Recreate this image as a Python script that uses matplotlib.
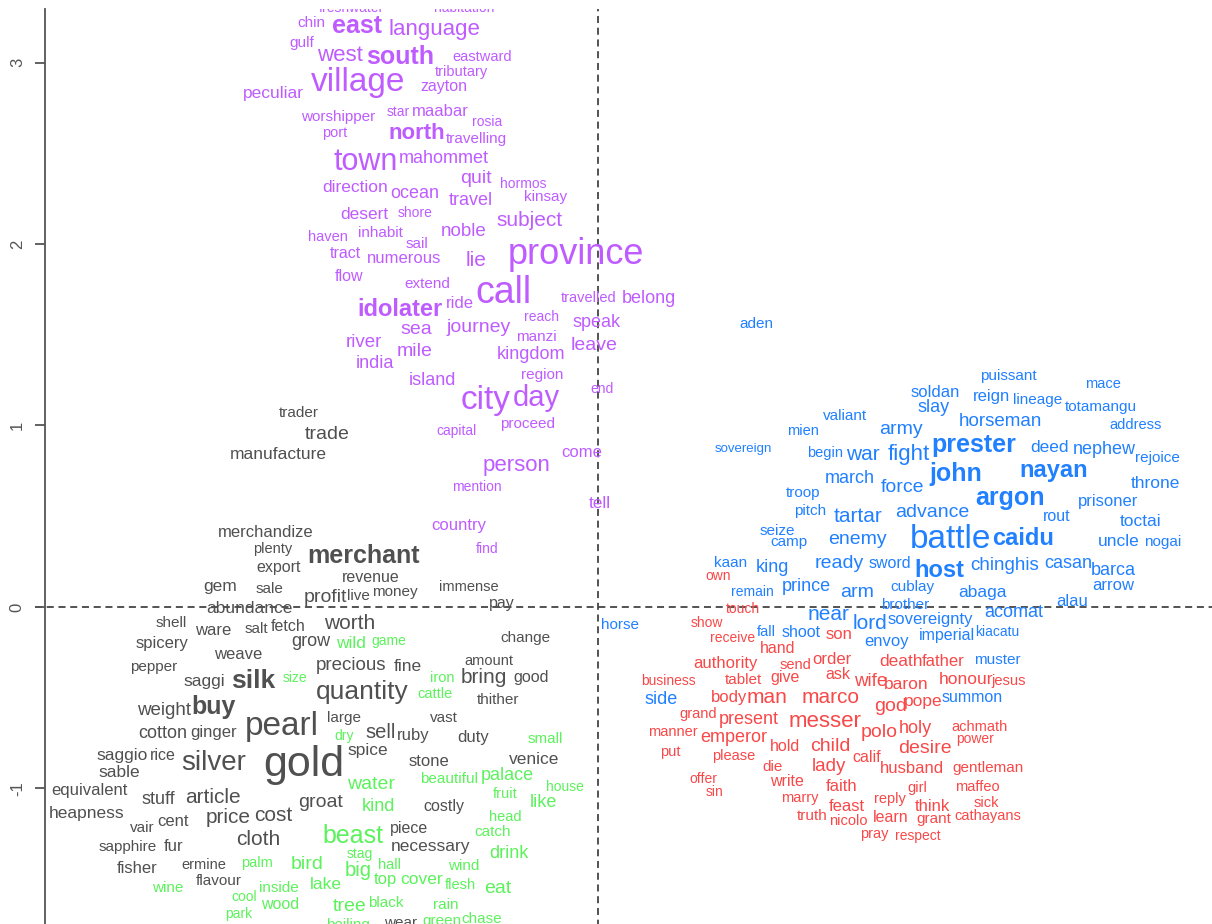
import matplotlib
matplotlib.use("Agg")
import matplotlib.pyplot as plt

# words of each cluster, with position on the two factors and font size
purple_words = ["freshwater", "habitation", "chin", "east", "language", "gulf", "west", "south", "eastward", "tributary",
                "village", "peculiar", "zayton", "worshipper", "star", "maabar", "rosia", "port", "north", "travelling",
                "town", "mahommet", "quit", "hormos", "direction", "ocean", "travel", "kinsay", "desert", "shore",
                "subject", "noble", "haven", "inhabit", "sail", "tract", "numerous", "lie", "province", "flow",
                "extend", "idolater", "ride", "call", "travelled", "belong", "reach", "speak", "sea", "journey",
                "manzi", "river", "mile", "kingdom", "leave", "india", "region", "island", "end", "city",
                "day", "proceed", "capital", "come", "person", "mention", "tell", "country", "find"]
purple_x = [-1.36, -0.74, -1.58, -1.33, -0.90, -1.63, -1.42, -1.09, -0.64, -0.75,
            -1.32, -1.79, -0.85, -1.43, -1.10, -0.87, -0.61, -1.45, -1.00, -0.67,
            -1.28, -0.85, -0.67, -0.41, -1.34, -1.01, -0.70, -0.29, -1.29, -1.01,
            -0.38, -0.74, -1.49, -1.20, -1.00, -1.39, -1.07, -0.67, -0.12, -1.37,
            -0.94, -1.09, -0.76, -0.52, -0.05, 0.28, -0.31, -0.01, -1.00, -0.66,
            -0.34, -1.29, -1.01, -0.37, -0.02, -1.23, -0.31, -0.91, 0.02, -0.62,
            -0.34, -0.39, -0.78, -0.09, -0.45, -0.67, 0.01, -0.77, -0.61]
purple_y = [3.30, 3.30, 3.22, 3.20, 3.18, 3.11, 3.04, 3.03, 3.03, 2.95,
            2.89, 2.83, 2.87, 2.70, 2.73, 2.73, 2.67, 2.61, 2.61, 2.58,
            2.45, 2.47, 2.36, 2.33, 2.31, 2.28, 2.24, 2.26, 2.16, 2.17,
            2.13, 2.07, 2.04, 2.06, 2.00, 1.95, 1.92, 1.91, 1.94, 1.82,
            1.78, 1.64, 1.67, 1.73, 1.70, 1.70, 1.60, 1.57, 1.53, 1.54,
            1.49, 1.46, 1.41, 1.39, 1.44, 1.34, 1.28, 1.25, 1.20, 1.14,
            1.15, 1.01, 0.97, 0.85, 0.78, 0.66, 0.57, 0.45, 0.32]
purple_size = [10, 10, 11, 18, 16, 11, 16, 18, 10.5, 10.5,
               24, 12.5, 11.5, 11, 10, 12, 10, 10.5, 16, 11,
               22, 13, 14, 10, 12.5, 13, 13, 11, 12.5, 10,
               15, 13.5, 10.5, 11, 11, 11.5, 12, 15, 26, 11.5,
               11, 17, 12, 27, 10.5, 13, 10, 13, 14, 14,
               11, 13.5, 14, 13, 14, 13, 11, 13, 10, 24,
               21, 11, 10, 12, 16, 10, 12.5, 12, 10]

grey_words = ["trader", "trade", "manufacture", "merchandize", "plenty", "export", "merchant", "revenue", "gem", "sale",
              "profit", "live", "money", "immense", "pay", "abundance", "shell", "ware", "salt", "fetch",
              "spicery", "grow", "weave", "pepper", "saggi", "silk", "weight", "buy", "pearl", "cotton",
              "ginger", "saggio", "rice", "silver", "gold", "sable", "equivalent", "stuff", "article", "heapness",
              "price", "cost", "cent", "vair", "cloth", "sapphire", "fur", "fisher", "ermine", "flavour",
              "worth", "change", "precious", "fine", "amount", "bring", "good", "quantity", "thither", "large",
              "vast", "sell", "ruby", "duty", "spice", "venice", "stone", "groat", "costly", "piece",
              "necessary", "wear"]
grey_x = [-1.65, -1.49, -1.76, -1.83, -1.79, -1.76, -1.29, -1.25, -2.08, -1.81,
          -1.50, -1.32, -1.12, -0.71, -0.53, -1.92, -2.35, -2.12, -1.88, -1.71,
          -2.40, -1.58, -1.98, -2.45, -2.17, -1.90, -2.39, -2.12, -1.74, -2.40,
          -2.12, -2.62, -2.40, -2.12, -1.62, -2.64, -2.80, -2.42, -2.12, -2.82,
          -2.04, -1.79, -2.34, -2.51, -1.87, -2.59, -2.34, -2.54, -2.17, -2.09,
          -1.37, -0.40, -1.36, -1.05, -0.60, -0.63, -0.37, -1.30, -0.55, -1.40,
          -0.85, -1.20, -1.02, -0.69, -1.27, -0.35, -0.93, -1.53, -0.85, -1.04,
          -0.92, -1.09]
grey_y = [1.07, 0.95, 0.84, 0.41, 0.32, 0.22, 0.28, 0.16, 0.11, 0.10,
          0.05, 0.06, 0.08, 0.11, 0.02, -0.01, -0.09, -0.13, -0.12, -0.11,
          -0.20, -0.19, -0.26, -0.33, -0.41, -0.41, -0.57, -0.55, -0.66, -0.70,
          -0.69, -0.82, -0.82, -0.86, -0.87, -0.91, -1.01, -1.06, -1.05, -1.14,
          -1.16, -1.15, -1.18, -1.22, -1.28, -1.32, -1.32, -1.44, -1.42, -1.51,
          -0.09, -0.17, -0.32, -0.33, -0.30, -0.39, -0.39, -0.47, -0.51, -0.61,
          -0.61, -0.69, -0.71, -0.72, -0.79, -0.84, -0.85, -1.08, -1.10, -1.22,
          -1.32, -1.74]
grey_size = [11, 14, 12.5, 12, 10.5, 11.5, 18, 11.5, 12.5, 11,
             14, 11, 11, 10.5, 11.5, 12.5, 11, 12, 11, 11.5,
             12, 13, 12, 11, 12.5, 19, 13.5, 18, 24, 13,
             12, 12.5, 11.5, 20, 31, 12.5, 12, 13, 15, 12.5,
             15, 15, 12, 11, 15, 11, 12, 12, 10.5, 11,
             15, 11, 13.5, 12.5, 10.5, 15, 11.5, 19, 11, 11,
             11, 14.5, 12, 12, 12.5, 12.5, 12, 14, 11.5, 11.5,
             12.5, 11]

green_words = ["wild", "game", "size", "iron", "cattle", "dry", "small", "beautiful", "palace", "water",
               "house", "fruit", "like", "kind", "head", "catch", "beast", "drink", "stag", "bird",
               "big", "hall", "wind", "top", "cover", "flesh", "eat", "lake", "palm", "wine",
               "inside", "cool", "wood", "park", "tree", "black", "rain", "boiling", "green", "chase"]
green_x = [-1.36, -1.15, -1.67, -0.86, -0.90, -1.40, -0.29, -0.82, -0.50, -1.25,
           -0.18, -0.51, -0.30, -1.21, -0.51, -0.58, -1.35, -0.49, -1.31, -1.60,
           -1.32, -1.15, -0.74, -1.17, -0.97, -0.76, -0.55, -1.50, -1.88, -2.37,
           -1.76, -1.95, -1.75, -1.98, -1.37, -1.17, -0.84, -1.38, -0.86, -0.64]
green_y = [-0.20, -0.19, -0.39, -0.39, -0.48, -0.71, -0.73, -0.95, -0.93, -0.98,
           -0.99, -1.03, -1.08, -1.10, -1.16, -1.24, -1.26, -1.36, -1.36, -1.42,
           -1.45, -1.42, -1.43, -1.50, -1.50, -1.53, -1.55, -1.53, -1.41, -1.55,
           -1.55, -1.60, -1.64, -1.69, -1.65, -1.63, -1.64, -1.75, -1.73, -1.72]
green_size = [12.5, 10, 10, 10.5, 10.5, 10, 11, 11, 13, 14,
              10, 10.5, 13, 13, 10.5, 11, 18, 13, 10, 14,
              14.5, 10.5, 11, 12, 12.5, 10.5, 14, 12.5, 10.5, 11,
              11, 10, 11.5, 10, 14, 11, 11, 11, 11, 11]

blue_words = ["aden", "puissant", "mace", "soldan", "reign", "lineage", "totamangu", "slay", "valiant", "horseman",
              "address", "mien", "army", "sovereign", "begin", "war", "fight", "prester", "deed", "nephew",
              "rejoice", "john", "nayan", "march", "throne", "troop", "force", "argon", "prisoner", "pitch",
              "tartar", "advance", "rout", "toctai", "seize", "camp", "enemy", "battle", "caidu", "uncle",
              "nogai", "kaan", "king", "ready", "sword", "host", "chinghis", "casan", "barca", "prince",
              "remain", "arm", "cublay", "abaga", "arrow", "alau", "brother", "near", "acomat", "lord",
              "sovereignty", "horse", "fall", "shoot", "envoy", "imperial", "kiacatu", "muster", "summon", "side"]
blue_x = [0.87, 2.26, 2.78, 1.86, 2.17, 2.42, 2.77, 1.85, 1.36, 2.22,
          2.96, 1.13, 1.67, 0.80, 1.25, 1.46, 1.71, 2.07, 2.49, 2.79,
          3.08, 1.97, 2.51, 1.39, 3.07, 1.13, 1.68, 2.27, 2.81, 1.17,
          1.43, 1.84, 2.53, 2.99, 0.99, 1.05, 1.43, 1.94, 2.34, 2.87,
          3.11, 0.73, 0.96, 1.33, 1.61, 1.88, 2.24, 2.59, 2.84, 1.15,
          0.85, 1.43, 1.73, 2.12, 2.84, 2.61, 1.69, 1.27, 2.29, 1.50,
          1.83, 0.12, 0.93, 1.12, 1.59, 1.92, 2.20, 2.20, 2.06, 0.35]
blue_y = [1.56, 1.27, 1.23, 1.18, 1.16, 1.14, 1.10, 1.10, 1.05, 1.02,
          1.00, 0.97, 0.98, 0.87, 0.85, 0.84, 0.84, 0.89, 0.88, 0.87,
          0.82, 0.73, 0.75, 0.71, 0.68, 0.63, 0.66, 0.60, 0.58, 0.53,
          0.50, 0.52, 0.50, 0.47, 0.42, 0.36, 0.37, 0.37, 0.38, 0.36,
          0.36, 0.24, 0.22, 0.24, 0.24, 0.20, 0.23, 0.24, 0.20, 0.11,
          0.08, 0.08, 0.11, 0.08, 0.12, 0.03, 0.01, -0.04, -0.03, -0.09,
          -0.07, -0.10, -0.14, -0.14, -0.19, -0.16, -0.14, -0.29, -0.50, -0.51]
blue_size = [11, 11, 10.5, 12, 12, 11, 11, 13, 11, 13.5,
             10.5, 10.5, 14, 9.5, 10.5, 15, 16, 18, 12.5, 13,
             11, 18, 17, 13, 12.5, 11, 14, 18, 12, 11,
             15, 14, 11.5, 12.5, 11, 11, 14, 24, 17, 12.5,
             11, 11, 13, 14, 11.5, 17, 13.5, 13, 13, 13,
             10, 14, 11, 12.5, 12, 12, 11, 15, 13, 15,
             12, 11, 10.5, 11.5, 12, 11.5, 10, 11, 11.5, 13]

red_words = ["own", "touch", "son", "show", "receive", "hand", "authority", "send", "order", "death",
             "father", "ask", "give", "tablet", "business", "wife", "honour", "jesus", "baron", "body",
             "man", "marco", "god", "pope", "grand", "present", "messer", "polo", "holy", "achmath",
             "manner", "emperor", "power", "hold", "child", "put", "please", "desire", "calif", "die",
             "lady", "husband", "gentleman", "offer", "write", "girl", "maffeo", "faith", "sin", "marry",
             "reply", "feast", "think", "sick", "truth", "learn", "grant", "cathayans", "nicolo", "pray",
             "respect"]
red_x = [0.66, 0.80, 1.33, 0.60, 0.74, 0.99, 0.70, 1.09, 1.29, 1.67,
         1.90, 1.32, 1.03, 0.80, 0.39, 1.50, 2.03, 2.26, 1.70, 0.72,
         0.93, 1.28, 1.61, 1.79, 0.55, 0.83, 1.25, 1.55, 1.75, 2.10,
         0.41, 0.75, 2.08, 1.03, 1.28, 0.40, 0.75, 1.80, 1.48, 0.96,
         1.27, 1.73, 2.15, 0.58, 1.04, 1.76, 2.09, 1.34, 0.64, 1.11,
         1.61, 1.37, 1.84, 2.14, 1.18, 1.61, 1.85, 2.15, 1.38, 1.52,
         1.76]
red_y = [0.17, -0.01, -0.15, -0.09, -0.17, -0.23, -0.31, -0.32, -0.29, -0.30,
         -0.30, -0.37, -0.39, -0.40, -0.41, -0.41, -0.40, -0.41, -0.43, -0.50,
         -0.50, -0.50, -0.55, -0.52, -0.59, -0.62, -0.63, -0.69, -0.67, -0.66,
         -0.69, -0.72, -0.73, -0.77, -0.77, -0.80, -0.82, -0.78, -0.83, -0.88,
         -0.88, -0.89, -0.89, -0.95, -0.96, -1.00, -0.99, -0.99, -1.02, -1.05,
         -1.06, -1.10, -1.10, -1.08, -1.15, -1.16, -1.17, -1.15, -1.18, -1.25,
         -1.26]
red_size = [10, 10, 12, 10, 10, 11.5, 12, 10.5, 12, 12.5,
            12, 11.5, 11.5, 11, 10, 13.5, 12.5, 10.5, 12.5, 12,
            15, 15, 14, 12.5, 10.5, 13, 16, 14, 13, 10.5,
            10.5, 13, 10, 11.5, 14, 10.5, 10.5, 14, 11.5, 11,
            13.5, 12, 11, 10, 11.5, 10.5, 10.5, 12, 10, 10.5,
            10.5, 12, 12, 10.5, 11, 11.5, 11, 10.5, 10.5, 10.5,
            10]

bold_words = ["east", "south", "north", "idolater", "merchant", "silk", "buy",
              "prester", "john", "nayan", "argon", "caidu", "host"]
y_ticks = [-1, 0, 1, 2, 3]

clusters = [(purple_words, purple_x, purple_y, purple_size, "#BF5CFF"),
            (grey_words, grey_x, grey_y, grey_size, "#505050"),
            (green_words, green_x, green_y, green_size, "#5CF25C"),
            (blue_words, blue_x, blue_y, blue_size, "#2080FF"),
            (red_words, red_x, red_y, red_size, "#F84848")]

plt.rcParams["font.family"] = ["Liberation Sans", "DejaVu Sans"]

fig = plt.figure(figsize=(12.12, 9.24), dpi=100)
ax = fig.add_axes([45 / 1212, 0, 1 - 45 / 1212, 1 - 9 / 924])
ax.set_xlim(-3.047, 3.383)
ax.set_ylim(-1.747, 3.295)

dash = (0, (3.9, 2.6))
ax.axhline(0, xmin=-0.0086, color="#444444", lw=1.3, ls=dash, clip_on=False, zorder=1)
ax.axvline(0, ymax=1.0, color="#444444", lw=1.3, ls=(1.5, (3.9, 2.6)), zorder=1)

for words, xs, ys, sizes, colour in clusters:
    assert len(words) == len(xs) == len(ys) == len(sizes), words[0]
    for word, x, y, size in zip(words, xs, ys, sizes):
        weight = "bold" if word in bold_words else "normal"
        ax.text(x, y, word, color=colour, fontsize=size, fontweight=weight,
                ha="center", va="center", clip_on=True, zorder=2)

for side in ["top", "right", "bottom"]:
    ax.spines[side].set_visible(False)
ax.spines["left"].set_color("#555555")
ax.spines["left"].set_linewidth(1.3)
ax.set_xticks([])
ax.set_yticks(y_ticks)
ax.set_yticklabels([str(t) for t in y_ticks], rotation=90, va="center", fontsize=12, color="#555555")
ax.tick_params(axis="y", length=7.5, width=1.3, color="#555555", pad=7)

fig.savefig("out.png", dpi=100)
